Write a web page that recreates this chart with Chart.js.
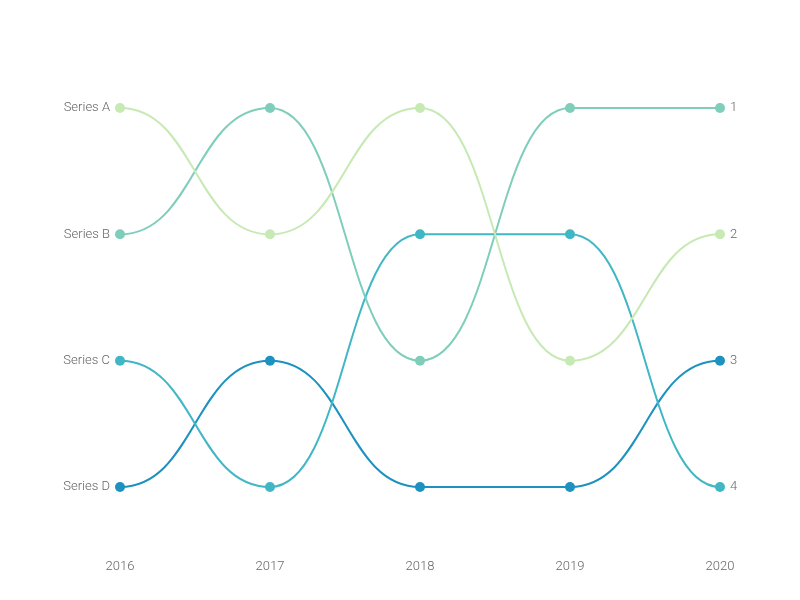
<!DOCTYPE html>
<html>
<head>
<meta charset="utf-8">
<script src="https://cdn.jsdelivr.net/npm/chart.js@4"></script>
<style>
  html, body { margin: 0; padding: 0; background: #fff; }
  #wrap { width: 800px; height: 600px; }
</style>
</head>
<body>
<div id="wrap"><canvas id="bumpChart"></canvas></div>
<script>
// data
const years = ['2016', '2017', '2018', '2019', '2020'];
const seriesNames = ['Series A', 'Series B', 'Series C', 'Series D'];
const rankA = [1, 2, 1, 3, 2];
const rankB = [2, 1, 3, 1, 1];
const rankC = [3, 4, 2, 2, 4];
const rankD = [4, 3, 4, 4, 3];
const rightLabels = ['1', '2', '3', '4'];
const colors = ['#c7e9b4', '#7fcdbb', '#41b6c4', '#1d91c0'];

const ranks = [rankA, rankB, rankC, rankD];

// bump curve: horizontal tangents at every point
const bumpCurve = {
  id: 'bumpCurve',
  beforeDatasetsDraw(chart) {
    chart.data.datasets.forEach((ds, i) => {
      const meta = chart.getDatasetMeta(i);
      const pts = meta.data;
      pts.forEach((p, j) => {
        const prev = pts[j - 1];
        const next = pts[j + 1];
        p.cp1x = prev ? (prev.x + p.x) / 2 : p.x;
        p.cp1y = p.y;
        p.cp2x = next ? (next.x + p.x) / 2 : p.x;
        p.cp2y = p.y;
      });
      meta.dataset._pointsUpdated = true;
    });
  }
};

const tickFont = { family: 'Roboto', size: 13, weight: 300 };

const config = {
  type: 'line',
  data: {
    labels: years,
    datasets: seriesNames.map((name, i) => ({
      label: name,
      data: ranks[i],
      borderColor: colors[i],
      backgroundColor: colors[i],
      pointBackgroundColor: colors[i],
      pointBorderWidth: 0,
      pointRadius: 5,
      borderWidth: 2,
      tension: 0.4,
      clip: false,
      yAxisID: 'y'
    }))
  },
  options: {
    responsive: true,
    maintainAspectRatio: false,
    animation: false,
    layout: { padding: { top: 108, left: 0, right: 0, bottom: 0 } },
    plugins: {
      legend: { display: false },
      tooltip: { enabled: false }
    },
    scales: {
      x: {
        offset: false,
        grid: { display: false, drawTicks: false },
        border: { display: false },
        ticks: { color: '#666', font: tickFont, padding: 72 },
        afterFit(axis) {
          axis.height = 113;
          axis.paddingLeft = 0;
          axis.paddingRight = 0;
        }
      },
      y: {
        position: 'left',
        reverse: true,
        min: 1,
        max: 4,
        grid: { display: false, drawTicks: false },
        border: { display: false },
        ticks: {
          stepSize: 1,
          color: '#666',
          font: tickFont,
          padding: 10,
          callback: (v) => seriesNames[v - 1]
        },
        afterFit(axis) { axis.width = 120; }
      },
      y2: {
        position: 'right',
        reverse: true,
        min: 1,
        max: 4,
        grid: { display: false, drawTicks: false },
        border: { display: false },
        ticks: {
          stepSize: 1,
          color: '#666',
          font: tickFont,
          padding: 10,
          callback: (v) => rightLabels[v - 1]
        },
        afterFit(axis) { axis.width = 80; }
      }
    }
  },
  plugins: [bumpCurve]
};

const bumpChart = new Chart(document.getElementById('bumpChart'), config);
</script>
</body>
</html>
